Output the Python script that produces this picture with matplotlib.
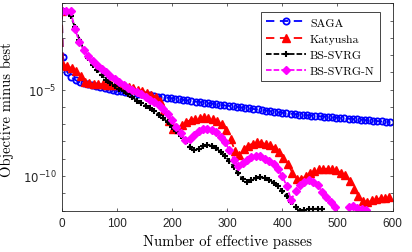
import numpy as np
import matplotlib
matplotlib.use("Agg")
import matplotlib.pyplot as plt

plt.rcParams['mathtext.fontset'] = 'custom'
plt.rcParams['mathtext.rm'] = 'Liberation Sans'
plt.rcParams['lines.scale_dashes'] = False

# log10 of objective minus best
saga_x = np.concatenate(([0, 2], np.arange(10, 600, 7.5)))
saga_log = [-0.44, -3.1,
            -4.00, -4.27, -4.45, -4.57, -4.63, -4.70, -4.76, -4.81, -4.87, -4.92,
            -4.97, -5.02, -5.07, -5.10, -5.13, -5.17, -5.20, -5.23, -5.26, -5.29,
            -5.33, -5.36, -5.40, -5.43, -5.46, -5.49, -5.52, -5.55, -5.59, -5.62,
            -5.65, -5.69, -5.72, -5.75, -5.78, -5.81, -5.85, -5.88, -5.91, -5.94,
            -5.97, -6.00, -6.03, -6.06, -6.09, -6.12, -6.15, -6.18, -6.21, -6.24,
            -6.28, -6.31, -6.34, -6.36, -6.39, -6.41, -6.44, -6.46, -6.48, -6.50,
            -6.52, -6.54, -6.56, -6.58, -6.60, -6.62, -6.64, -6.66, -6.68, -6.70,
            -6.72, -6.74, -6.76, -6.78, -6.80, -6.82, -6.84, -6.86, -6.88]

katy_x = np.concatenate(([0, 2], np.arange(10, 600, 8)))
katy_log = [-0.44, -3.55,
            -3.65, -3.75, -3.90, -4.20, -4.55, -4.63, -4.66, -4.68, -4.70, -4.71,
            -4.72, -4.73, -4.75, -4.78, -4.85, -4.93, -5.02, -5.10, -5.20, -5.30,
            -5.40, -5.68, -6.20, -6.80, -7.30, -7.30, -7.05, -6.88, -6.75, -6.68,
            -6.63, -6.61, -6.64, -6.70, -6.82, -6.99, -7.35, -7.85, -8.55, -8.80,
            -8.45, -8.25, -8.12, -8.06, -8.08, -8.15, -8.22, -8.36, -8.60, -8.95,
            -9.30, -9.80, -10.15, -10.15, -9.98, -9.82, -9.70, -9.62, -9.59, -9.58,
            -9.60, -9.68, -9.80, -9.95, -10.30, -10.75, -11.15, -11.45, -11.50, -11.42,
            -11.36, -11.30, -11.25, -11.22]

bs_x = np.arange(0, 473, 8)
bs_log = [-0.44, -0.50, -0.72, -1.40, -2.10, -2.70, -3.17, -3.55, -3.86, -4.15,
          -4.42, -4.62, -4.80, -4.95, -5.10, -5.27, -5.45, -5.63, -5.80, -5.95,
          -6.08, -6.22, -6.45, -6.65, -6.90, -7.15, -7.40, -7.70, -7.95, -8.35,
          -8.52, -8.42, -8.28, -8.19, -8.27, -8.40, -8.60, -8.85, -9.15, -9.50,
          -9.85, -10.20, -10.33, -10.24, -10.12, -10.08, -10.12, -10.22, -10.38, -10.60,
          -10.85, -11.17, -11.50, -11.82, -12.05, -11.98, -11.92, -11.90, -11.90, -11.93]

bsn_x = np.arange(0, 553, 8)
bsn_log = [-0.44, -0.44, -0.47, -1.50, -2.25, -2.72, -3.05, -3.35, -3.58, -3.80,
           -4.00, -4.20, -4.38, -4.55, -4.72, -4.88, -5.00, -5.12, -5.25, -5.42,
           -5.59, -5.72, -5.88, -6.12, -6.40, -6.75, -7.15, -7.52, -7.92, -7.85,
           -7.62, -7.42, -7.30, -7.27, -7.36, -7.48, -7.72, -8.05, -8.50, -9.05,
           -9.42, -9.25, -9.05, -8.92, -8.83, -8.85, -9.00, -9.15, -9.33, -9.62,
           -10.00, -10.60, -11.40, -10.85, -10.52, -10.36, -10.26, -10.33, -10.55, -10.90,
           -11.22, -11.52, -11.78, np.nan, np.nan, -11.80, -11.76, -11.84, -11.90, -11.97]

labels = ['SAGA', 'Katyusha', 'BS-SVRG', 'BS-SVRG-N']

fig = plt.figure(figsize=(4.12, 2.53), dpi=100)
ax = fig.add_axes([0.150, 0.164, 0.803, 0.819])

ax.semilogy(saga_x, 10.0 ** np.array(saga_log), color='#0000ff', ls=(0, (6, 4)), lw=1.3,
            marker='o', ms=4.5, mfc='none', mew=1.3, label=labels[0])
ax.semilogy(katy_x, 10.0 ** np.array(katy_log), color='#ff0000', ls=(0, (6, 4)), lw=1.3,
            marker='^', ms=5.2, mew=1.0, label=labels[1])
ax.semilogy(bs_x, 10.0 ** np.array(bs_log), color='k', ls=(0, (4, 1.5)), lw=1.3,
            marker='+', ms=5, mew=1.5, label=labels[2])
ax.semilogy(bsn_x, 10.0 ** np.array(bsn_log), color='#ff00ff', ls=(0, (4, 1.5)), lw=1.3,
            marker='D', ms=4.4, mew=1.0, label=labels[3])

ax.set_xlim(0, 600)
ax.set_ylim(1e-12, 10 ** -0.44)
ax.set_xticks(np.arange(0, 601, 100))
ax.set_xticklabels([str(v) for v in range(0, 601, 100)], family='Liberation Sans', fontsize=8.5)
decades = list(range(-12, 1))
ax.set_yticks([10.0 ** k for k in decades])
ax.set_yticklabels([r'$\mathregular{10^{%d}}$' % k if k in (-5, -10) else '' for k in decades],
                   fontsize=8.5)
ax.minorticks_off()
ax.tick_params(direction='in', length=2.5, width=0.5, top=True, right=True,
               color='0.15', labelcolor='0.15')
ax.tick_params(axis='x', pad=5)
for s in ax.spines.values():
    s.set_linewidth(0.6)
    s.set_color('0.15')

ax.set_xlabel('Number of effective passes', family='cmr10', fontsize=10.5, labelpad=3)
ax.set_ylabel('Objective minus best', family='cmr10', fontsize=10.5)
ax.yaxis.set_label_coords(-0.145, 0.49)

leg = ax.legend(loc='upper right', bbox_to_anchor=(0.962, 0.958), borderaxespad=0,
                prop={'family': 'cmr10', 'size': 8.5}, handlelength=3.4,
                fancybox=False, framealpha=1, edgecolor='0.15',
                labelspacing=0.5, borderpad=0.45, handletextpad=0.3)
leg.get_frame().set_linewidth(0.6)

fig.savefig('out.png', dpi=100)
